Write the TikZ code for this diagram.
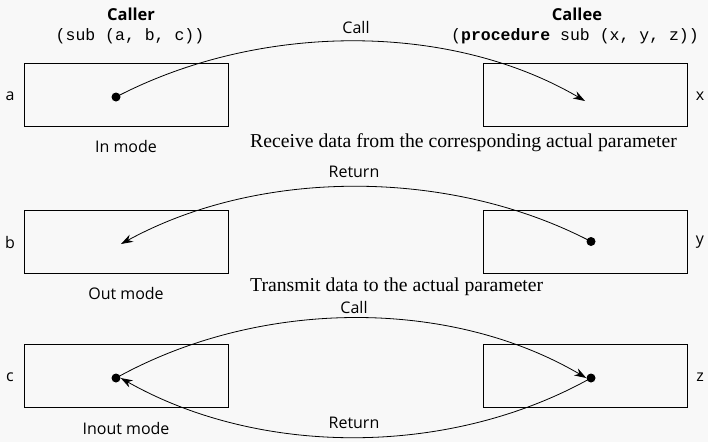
\documentclass[tikz,border=0pt]{standalone}
\usepackage{fontspec}
\setmainfont{Liberation Serif}
\setsansfont{Open Sans}
\setmonofont{Liberation Mono}
\usetikzlibrary{arrows.meta}
\definecolor{bgc}{RGB}{248,248,248}
\tikzset{
  parbox/.style={draw=black, line width=0.9pt, minimum width=204pt, minimum height=63pt, inner sep=0pt},
  dot/.style={circle, fill=black, inner sep=0pt, minimum size=9pt},
  lab/.style={font=\sffamily\fontsize{16}{19}\selectfont, inner sep=0pt},
  ttl/.style={font=\sffamily\bfseries\fontsize{16.5}{19}\selectfont, inner sep=0pt},
  code/.style={font=\ttfamily\fontsize{16.5}{19}\selectfont, inner sep=0pt},
  note/.style={font=\rmfamily\fontsize{19.7}{23}\selectfont, inner sep=0pt, anchor=west},
  flow/.style={line width=0.8pt, -{Stealth[length=12pt,width=8pt]}},
}
\begin{document}
\begin{tikzpicture}[x=1pt,y=-1pt]
\fill[bgc] (0,0) rectangle (708,442);
\useasboundingbox (0,0) rectangle (708,442);

% titles
\node[ttl] (caller) at (131,14) {Caller};
\node[code] (callersig) at (130,36) {(sub (a, b, c))};
\node[ttl] (callee) at (577,14) {Callee};
\node[code] (calleesig) at (575,36) {(\textbf{procedure} sub (x, y, z))};

% row 1: in mode
\node[parbox] (a) at (126,94.5) {};
\node[parbox] (x) at (585,94.5) {};
\node[lab] (la) at (10,96) {a};
\node[lab] (lx) at (700,96) {x};
\node[dot] (da) at (116,97) {};
\coordinate (tx) at (585,101);
\node[lab] (call1) at (356,27) {Call};
\node[lab] (inmode) at (126,146) {In mode};
\node[note] (recv) at (250,143) {Receive data from the corresponding actual parameter};
\draw[flow] (da.center) .. controls (260,22) and (450,22) .. (tx);

% row 2: out mode
\node[parbox] (b) at (126,241.5) {};
\node[parbox] (y) at (585,241.5) {};
\node[lab] (lb) at (10,242) {b};
\node[lab] (ly) at (700,242) {y};
\node[dot] (dy) at (591,241.5) {};
\coordinate (tb) at (121,244);
\node[lab] (ret2) at (354,172) {Return};
\node[lab] (outmode) at (126,293) {Out mode};
\node[note] (trans) at (250,287) {Transmit data to the actual parameter};
\draw[flow] (dy.center) .. controls (450,168) and (260,168) .. (tb);

% row 3: inout mode
\node[parbox] (c) at (126,376) {};
\node[parbox] (z) at (585,376) {};
\node[lab] (lc) at (10,377) {c};
\node[lab] (lz) at (700,377) {z};
\node[dot] (dc) at (116,378) {};
\node[dot] (dz) at (591,378) {};
\node[lab] (call3) at (354,307) {Call};
\node[lab] (ret3) at (354,423) {Return};
\node[lab] (inoutmode) at (126,428) {Inout mode};
\draw[flow] (dc.center) .. controls (260,298) and (450,298) .. (dz.west);
\draw[flow] (dz.center) .. controls (450,457) and (260,457) .. (dc.east);
\end{tikzpicture}
\end{document}
